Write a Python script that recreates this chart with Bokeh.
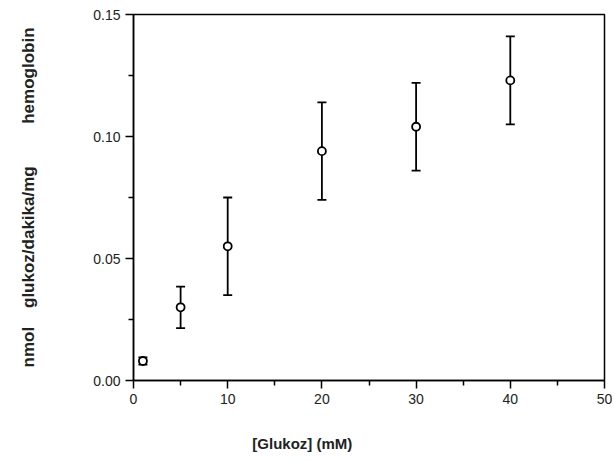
from bokeh.plotting import figure
from bokeh.models import ColumnDataSource, Whisker, Range1d, FixedTicker, TeeHead
from bokeh.embed import file_html
from bokeh.resources import INLINE

# data
glucose_mM = [1, 5, 10, 20, 30, 40]
rate = [0.008, 0.030, 0.055, 0.094, 0.104, 0.123]
rate_err = [0.0015, 0.0085, 0.020, 0.020, 0.018, 0.018]

x_ticks = [0, 10, 20, 30, 40, 50]
x_minor = [5, 15, 25, 35, 45]
y_ticks = [0.0, 0.05, 0.10, 0.15]
y_tick_labels = ["0.00", "0.05", "0.10", "0.15"]
y_minor = [0.025, 0.075, 0.125]

NB = "\u00a0"
x_title = "[Glukoz] (mM)" + NB * 32
y_title = "nmol" + NB * 4 + "glukoz/dakika/mg" + NB * 9 + "hemoglobin"

src = ColumnDataSource(dict(
    x=glucose_mM,
    y=rate,
    lo=[v - e for v, e in zip(rate, rate_err)],
    hi=[v + e for v, e in zip(rate, rate_err)],
))

p = figure(width=612, height=460, output_backend="svg", toolbar_location=None,
           x_range=Range1d(0, 50), y_range=Range1d(0, 0.15),
           min_border_left=133, min_border_right=8, min_border_top=14, min_border_bottom=80)

p.background_fill_color = "white"
p.border_fill_color = "white"
p.outline_line_color = "black"
p.outline_line_width = 1.5
p.xgrid.visible = False
p.ygrid.visible = False

FONT = "Liberation Sans"
TXT = "#222222"

for ax in (p.xaxis[0], p.yaxis[0]):
    ax.axis_line_color = "black"
    ax.axis_line_width = 1.5
    ax.major_tick_line_color = "black"
    ax.major_tick_line_width = 1.5
    ax.minor_tick_line_color = "black"
    ax.minor_tick_line_width = 1.5
    ax.major_tick_in = 0
    ax.major_tick_out = 8
    ax.minor_tick_in = 0
    ax.minor_tick_out = 5
    ax.major_label_text_font = FONT
    ax.major_label_text_font_size = "14px"
    ax.major_label_text_color = TXT
    ax.axis_label_text_font = FONT
    ax.axis_label_text_font_style = "bold"
    ax.axis_label_text_color = TXT

p.xaxis.axis_label_text_font_size = "15px"
p.yaxis.axis_label_text_font_size = "17px"

p.xaxis.ticker = FixedTicker(ticks=x_ticks, minor_ticks=x_minor)
p.yaxis.ticker = FixedTicker(ticks=y_ticks, minor_ticks=y_minor)
p.yaxis.major_label_overrides = {t: l for t, l in zip(y_ticks, y_tick_labels)}
p.xaxis.major_label_standoff = 5
p.yaxis.major_label_standoff = 5

p.xaxis.axis_label = x_title
p.xaxis.axis_label_standoff = 28
p.yaxis.axis_label = y_title
p.yaxis.axis_label_standoff = 52

w = Whisker(base="x", lower="lo", upper="hi", source=src,
            line_color="black", line_width=1.8,
            upper_head=TeeHead(size=9, line_color="black", line_width=1.8),
            lower_head=TeeHead(size=9, line_color="black", line_width=1.8))
p.add_layout(w)

p.scatter("x", "y", source=src, marker="circle", size=8,
          fill_color="white", line_color="black", line_width=1.8)

open("out.html", "w").write(file_html(p, INLINE))
